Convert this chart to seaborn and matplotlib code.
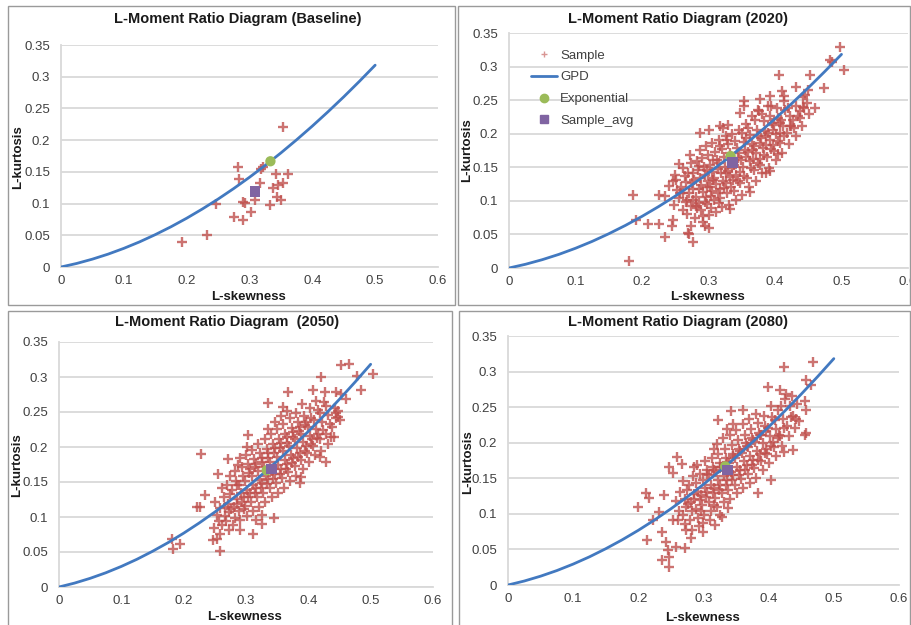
import matplotlib
matplotlib.use("Agg")
import matplotlib.pyplot as plt
from matplotlib.lines import Line2D
from matplotlib.patches import Rectangle
import pandas as pd
import seaborn as sns

# GPD theoretical L-skewness / L-kurtosis relation
gpd_skew = [0.0, 0.025, 0.05, 0.075, 0.1, 0.125, 0.15, 0.175, 0.2, 0.225, 0.25,
            0.275, 0.3, 0.325, 0.35, 0.375, 0.4, 0.425, 0.45, 0.475, 0.5]
gpd_kurt = [0.0, 0.0056, 0.0124, 0.0203, 0.0294, 0.0396, 0.0510, 0.0634, 0.0769,
            0.0915, 0.1071, 0.1238, 0.1415, 0.1602, 0.1799, 0.2006, 0.2222,
            0.2448, 0.2683, 0.2928, 0.3182]

# Exponential distribution point
exp_skew = 0.3333
exp_kurt = 0.1667

# Sample averages
avg_baseline = (0.309, 0.119)
avg_2020 = (0.336, 0.157)
avg_2050 = (0.341, 0.169)
avg_2080 = (0.337, 0.162)

# Sample L-moment ratios (L-skewness, L-kurtosis)
sample_baseline = [
    (0.354, 0.221), (0.281, 0.158), (0.284, 0.138), (0.321, 0.158), (0.318, 0.154),
    (0.342, 0.147), (0.362, 0.147), (0.317, 0.133), (0.337, 0.125), (0.346, 0.129),
    (0.354, 0.132), (0.247, 0.099), (0.290, 0.103), (0.293, 0.101), (0.309, 0.106),
    (0.333, 0.098), (0.344, 0.111), (0.350, 0.105), (0.302, 0.087), (0.276, 0.079),
    (0.289, 0.074), (0.233, 0.050), (0.192, 0.039),
]

sample_2020 = [
    (0.497, 0.329), (0.482, 0.310), (0.486, 0.307), (0.504, 0.295), (0.406, 0.287),
    (0.452, 0.288), (0.431, 0.270), (0.474, 0.268), (0.449, 0.265), (0.445, 0.258),
    (0.410, 0.263), (0.414, 0.256), (0.392, 0.256), (0.378, 0.251), (0.353, 0.248),
    (0.353, 0.241), (0.460, 0.238), (0.442, 0.240), (0.437, 0.234), (0.374, 0.236),
    (0.394, 0.241), (0.329, 0.213), (0.322, 0.209), (0.301, 0.206), (0.287, 0.201),
    (0.407, 0.201), (0.422, 0.211), (0.427, 0.221), (0.404, 0.170), (0.392, 0.144),
    (0.387, 0.141), (0.363, 0.113), (0.332, 0.088), (0.255, 0.155), (0.249, 0.139),
    (0.186, 0.108), (0.191, 0.072), (0.209, 0.066), (0.226, 0.066), (0.245, 0.062),
    (0.246, 0.072), (0.234, 0.046), (0.269, 0.052), (0.271, 0.050), (0.277, 0.038),
    (0.301, 0.060), (0.294, 0.062), (0.181, 0.011), (0.273, 0.063), (0.226, 0.109),
    (0.234, 0.107), (0.241, 0.122), (0.246, 0.129), (0.261, 0.112), (0.267, 0.102),
    (0.281, 0.092), (0.291, 0.077), (0.304, 0.089), (0.316, 0.097),
    (0.248, 0.094), (0.253, 0.116), (0.251, 0.131), (0.256, 0.104),
    (0.262, 0.086), (0.258, 0.121), (0.264, 0.137), (0.261, 0.149), (0.266, 0.099),
    (0.268, 0.081), (0.273, 0.093), (0.271, 0.112), (0.275, 0.126), (0.269, 0.141),
    (0.274, 0.156), (0.272, 0.168),
    (0.279, 0.074), (0.283, 0.089), (0.281, 0.106), (0.285, 0.117), (0.278, 0.131),
    (0.284, 0.146), (0.282, 0.159), (0.287, 0.176),
    (0.291, 0.069), (0.288, 0.087), (0.294, 0.099), (0.292, 0.113), (0.289, 0.124),
    (0.295, 0.138), (0.293, 0.151), (0.290, 0.164), (0.296, 0.181),
    (0.301, 0.079), (0.298, 0.096), (0.304, 0.107), (0.302, 0.121), (0.299, 0.129),
    (0.305, 0.143), (0.303, 0.154), (0.300, 0.169), (0.306, 0.186),
    (0.311, 0.084), (0.308, 0.101), (0.314, 0.111), (0.312, 0.125), (0.309, 0.134),
    (0.315, 0.148), (0.313, 0.161), (0.310, 0.173), (0.316, 0.191),
    (0.321, 0.091), (0.318, 0.104), (0.324, 0.119), (0.322, 0.129), (0.319, 0.141),
    (0.325, 0.151), (0.323, 0.166), (0.320, 0.177), (0.326, 0.196), (0.317, 0.211),
    (0.331, 0.094), (0.328, 0.111), (0.334, 0.121), (0.332, 0.136), (0.329, 0.145),
    (0.335, 0.159), (0.333, 0.171), (0.330, 0.184), (0.336, 0.199),
    (0.341, 0.101), (0.338, 0.114), (0.344, 0.129), (0.342, 0.139), (0.339, 0.153),
    (0.345, 0.164), (0.343, 0.179), (0.340, 0.189), (0.346, 0.206),
    (0.351, 0.109), (0.348, 0.126), (0.354, 0.137), (0.352, 0.151), (0.349, 0.161),
    (0.355, 0.176), (0.353, 0.187), (0.350, 0.201), (0.356, 0.214), (0.347, 0.231),
    (0.361, 0.121), (0.358, 0.134), (0.364, 0.149), (0.362, 0.159), (0.359, 0.173),
    (0.365, 0.184), (0.363, 0.198), (0.360, 0.209), (0.366, 0.226),
    (0.371, 0.129), (0.368, 0.146), (0.374, 0.157), (0.372, 0.171), (0.369, 0.181),
    (0.375, 0.196), (0.373, 0.206), (0.370, 0.221), (0.376, 0.234),
    (0.381, 0.141), (0.378, 0.154), (0.384, 0.169), (0.382, 0.179), (0.379, 0.193),
    (0.385, 0.204), (0.383, 0.219), (0.380, 0.229),
    (0.391, 0.149), (0.388, 0.166), (0.394, 0.177), (0.392, 0.191), (0.389, 0.201),
    (0.395, 0.216), (0.393, 0.227), (0.390, 0.241),
    (0.401, 0.161), (0.398, 0.174), (0.404, 0.189), (0.402, 0.199), (0.399, 0.213),
    (0.405, 0.224), (0.403, 0.239),
    (0.411, 0.171), (0.408, 0.186), (0.414, 0.197), (0.412, 0.211), (0.409, 0.221),
    (0.415, 0.236), (0.413, 0.249),
    (0.421, 0.184), (0.418, 0.201), (0.424, 0.212), (0.422, 0.226), (0.419, 0.239),
    (0.431, 0.196), (0.428, 0.209), (0.434, 0.226), (0.432, 0.241),
    (0.441, 0.211), (0.438, 0.224), (0.444, 0.239), (0.442, 0.254),
    (0.451, 0.229), (0.448, 0.246),
    (0.276, 0.101), (0.286, 0.097), (0.296, 0.106), (0.306, 0.114), (0.307, 0.131),
    (0.317, 0.118), (0.297, 0.121), (0.287, 0.134), (0.277, 0.118), (0.266, 0.128),
    (0.257, 0.112), (0.316, 0.156), (0.326, 0.141), (0.336, 0.149), (0.327, 0.127),
    (0.337, 0.131), (0.347, 0.143), (0.346, 0.171), (0.357, 0.166), (0.367, 0.176),
    (0.377, 0.186), (0.387, 0.196), (0.397, 0.206), (0.407, 0.216), (0.357, 0.193),
    (0.367, 0.163), (0.377, 0.163), (0.387, 0.183), (0.397, 0.183), (0.307, 0.161),
    (0.297, 0.146), (0.286, 0.152), (0.276, 0.142), (0.318, 0.181), (0.328, 0.191),
]

sample_2050 = [
    (0.453, 0.317), (0.466, 0.319), (0.504, 0.305), (0.485, 0.282), (0.478, 0.302),
    (0.421, 0.300), (0.461, 0.269), (0.368, 0.279), (0.336, 0.263), (0.360, 0.257),
    (0.408, 0.281), (0.426, 0.279), (0.445, 0.279), (0.448, 0.243), (0.445, 0.248),
    (0.437, 0.214), (0.429, 0.179), (0.418, 0.186), (0.303, 0.217), (0.301, 0.200),
    (0.228, 0.190), (0.271, 0.183), (0.255, 0.162), (0.234, 0.131), (0.221, 0.115),
    (0.226, 0.114), (0.181, 0.069), (0.183, 0.055), (0.194, 0.062), (0.258, 0.052),
    (0.247, 0.067), (0.253, 0.069), (0.311, 0.076), (0.290, 0.081), (0.345, 0.098),
    (0.325, 0.090), (0.386, 0.148), (0.389, 0.157),
    (0.249, 0.085), (0.254, 0.103), (0.251, 0.121), (0.256, 0.094),
    (0.262, 0.089), (0.258, 0.113), (0.264, 0.128), (0.261, 0.141), (0.266, 0.101),
    (0.259, 0.076),
    (0.268, 0.094), (0.273, 0.107), (0.271, 0.119), (0.275, 0.133), (0.269, 0.146),
    (0.274, 0.159), (0.272, 0.081),
    (0.279, 0.088), (0.283, 0.099), (0.281, 0.114), (0.285, 0.126), (0.278, 0.139),
    (0.284, 0.151), (0.282, 0.166), (0.287, 0.174),
    (0.291, 0.096), (0.288, 0.109), (0.294, 0.121), (0.292, 0.134), (0.289, 0.146),
    (0.295, 0.158), (0.293, 0.171), (0.290, 0.184),
    (0.301, 0.101), (0.298, 0.116), (0.304, 0.128), (0.302, 0.139), (0.299, 0.151),
    (0.305, 0.163), (0.303, 0.176), (0.300, 0.189),
    (0.311, 0.108), (0.308, 0.121), (0.314, 0.134), (0.312, 0.146), (0.309, 0.158),
    (0.315, 0.171), (0.313, 0.183), (0.310, 0.196), (0.316, 0.096),
    (0.321, 0.114), (0.318, 0.128), (0.324, 0.141), (0.322, 0.153), (0.319, 0.166),
    (0.325, 0.178), (0.323, 0.191), (0.320, 0.204), (0.326, 0.103),
    (0.331, 0.121), (0.328, 0.134), (0.334, 0.147), (0.332, 0.159), (0.329, 0.172),
    (0.335, 0.184), (0.333, 0.197), (0.330, 0.211), (0.336, 0.226),
    (0.341, 0.128), (0.338, 0.141), (0.344, 0.154), (0.342, 0.166), (0.339, 0.179),
    (0.345, 0.191), (0.343, 0.204), (0.340, 0.218), (0.346, 0.236),
    (0.351, 0.134), (0.348, 0.149), (0.354, 0.161), (0.352, 0.174), (0.349, 0.186),
    (0.355, 0.199), (0.353, 0.211), (0.350, 0.226), (0.356, 0.244),
    (0.361, 0.141), (0.358, 0.156), (0.364, 0.169), (0.362, 0.181), (0.359, 0.194),
    (0.365, 0.206), (0.363, 0.219), (0.360, 0.233), (0.366, 0.251),
    (0.371, 0.151), (0.368, 0.164), (0.374, 0.177), (0.372, 0.189), (0.369, 0.202),
    (0.375, 0.214), (0.373, 0.227), (0.370, 0.241),
    (0.381, 0.159), (0.378, 0.173), (0.384, 0.186), (0.382, 0.198), (0.379, 0.211),
    (0.385, 0.223), (0.383, 0.236), (0.380, 0.249),
    (0.391, 0.169), (0.388, 0.182), (0.394, 0.195), (0.392, 0.207), (0.389, 0.219),
    (0.395, 0.231), (0.393, 0.244), (0.390, 0.262),
    (0.401, 0.179), (0.398, 0.191), (0.404, 0.204), (0.402, 0.216), (0.399, 0.228),
    (0.405, 0.241), (0.403, 0.256),
    (0.411, 0.189), (0.408, 0.201), (0.414, 0.213), (0.412, 0.226), (0.409, 0.239),
    (0.415, 0.253), (0.413, 0.266),
    (0.421, 0.194), (0.418, 0.211), (0.424, 0.224), (0.422, 0.236), (0.419, 0.249),
    (0.425, 0.264),
    (0.431, 0.204), (0.428, 0.219), (0.434, 0.233), (0.432, 0.246), (0.429, 0.259),
    (0.441, 0.214), (0.438, 0.229), (0.444, 0.241), (0.442, 0.256),
    (0.451, 0.239), (0.448, 0.251), (0.453, 0.276),
    (0.276, 0.112), (0.286, 0.118), (0.296, 0.128), (0.306, 0.134), (0.316, 0.141),
    (0.326, 0.148), (0.336, 0.154), (0.346, 0.161), (0.356, 0.168), (0.366, 0.176),
    (0.376, 0.184), (0.386, 0.192), (0.396, 0.201), (0.406, 0.211), (0.416, 0.219),
    (0.306, 0.168), (0.316, 0.176), (0.326, 0.184), (0.336, 0.191), (0.346, 0.198),
    (0.356, 0.206), (0.366, 0.214), (0.376, 0.221), (0.386, 0.229), (0.396, 0.236),
    (0.286, 0.146), (0.296, 0.111), (0.266, 0.114),
]

sample_2080 = [
    (0.468, 0.313), (0.423, 0.307), (0.457, 0.288), (0.465, 0.281), (0.399, 0.279),
    (0.417, 0.274), (0.427, 0.269), (0.455, 0.258), (0.458, 0.246), (0.442, 0.234),
    (0.458, 0.213), (0.455, 0.211), (0.437, 0.190), (0.424, 0.187), (0.404, 0.148),
    (0.383, 0.129), (0.322, 0.232), (0.342, 0.244), (0.360, 0.246), (0.259, 0.180),
    (0.247, 0.166), (0.267, 0.170), (0.253, 0.157), (0.286, 0.166), (0.199, 0.110),
    (0.212, 0.129), (0.217, 0.122), (0.240, 0.127), (0.222, 0.091), (0.232, 0.103),
    (0.214, 0.063), (0.237, 0.075), (0.242, 0.061), (0.245, 0.049), (0.247, 0.040),
    (0.237, 0.035), (0.247, 0.026), (0.253, 0.091), (0.258, 0.054), (0.271, 0.052),
    (0.273, 0.077), (0.281, 0.066), (0.299, 0.075), (0.317, 0.084), (0.329, 0.096),
    (0.337, 0.108),
    (0.262, 0.104), (0.258, 0.118), (0.264, 0.131), (0.261, 0.091),
    (0.268, 0.098), (0.273, 0.109), (0.271, 0.121), (0.275, 0.134), (0.269, 0.146),
    (0.272, 0.086),
    (0.279, 0.091), (0.283, 0.104), (0.281, 0.116), (0.285, 0.128), (0.278, 0.141),
    (0.284, 0.153), (0.282, 0.078),
    (0.291, 0.094), (0.288, 0.107), (0.294, 0.119), (0.292, 0.131), (0.289, 0.143),
    (0.295, 0.156), (0.293, 0.083), (0.290, 0.169),
    (0.301, 0.099), (0.298, 0.112), (0.304, 0.124), (0.302, 0.136), (0.299, 0.148),
    (0.305, 0.161), (0.303, 0.174), (0.300, 0.087),
    (0.311, 0.104), (0.308, 0.117), (0.314, 0.129), (0.312, 0.141), (0.309, 0.154),
    (0.315, 0.166), (0.313, 0.179), (0.310, 0.092), (0.316, 0.191),
    (0.321, 0.109), (0.318, 0.122), (0.324, 0.134), (0.322, 0.147), (0.319, 0.159),
    (0.325, 0.171), (0.323, 0.184), (0.320, 0.198), (0.326, 0.099),
    (0.331, 0.116), (0.328, 0.129), (0.334, 0.141), (0.332, 0.153), (0.329, 0.166),
    (0.335, 0.178), (0.333, 0.191), (0.330, 0.206), (0.336, 0.219),
    (0.341, 0.121), (0.338, 0.134), (0.344, 0.147), (0.342, 0.159), (0.339, 0.172),
    (0.345, 0.184), (0.343, 0.197), (0.340, 0.211), (0.346, 0.226),
    (0.351, 0.129), (0.348, 0.141), (0.354, 0.154), (0.352, 0.166), (0.349, 0.179),
    (0.355, 0.191), (0.353, 0.204), (0.350, 0.218),
    (0.361, 0.136), (0.358, 0.149), (0.364, 0.161), (0.362, 0.174), (0.359, 0.186),
    (0.365, 0.199), (0.363, 0.211), (0.360, 0.226),
    (0.371, 0.144), (0.368, 0.156), (0.374, 0.169), (0.372, 0.181), (0.369, 0.194),
    (0.375, 0.206), (0.373, 0.219), (0.370, 0.233),
    (0.381, 0.151), (0.378, 0.164), (0.384, 0.176), (0.382, 0.189), (0.379, 0.201),
    (0.385, 0.214), (0.383, 0.228), (0.380, 0.241),
    (0.391, 0.161), (0.388, 0.174), (0.394, 0.186), (0.392, 0.199), (0.389, 0.211),
    (0.395, 0.224), (0.393, 0.238),
    (0.401, 0.171), (0.398, 0.184), (0.404, 0.196), (0.402, 0.209), (0.399, 0.221),
    (0.405, 0.236), (0.403, 0.251),
    (0.411, 0.181), (0.408, 0.194), (0.414, 0.206), (0.412, 0.219), (0.409, 0.232),
    (0.415, 0.246),
    (0.421, 0.196), (0.418, 0.209), (0.424, 0.221), (0.422, 0.234), (0.419, 0.251),
    (0.425, 0.262),
    (0.431, 0.209), (0.428, 0.223), (0.434, 0.236), (0.432, 0.251), (0.436, 0.266),
    (0.441, 0.221), (0.438, 0.238), (0.444, 0.254), (0.446, 0.231),
    (0.276, 0.114), (0.286, 0.121), (0.296, 0.126), (0.306, 0.131), (0.316, 0.136),
    (0.326, 0.141), (0.336, 0.148), (0.346, 0.154), (0.356, 0.161), (0.366, 0.168),
    (0.376, 0.176), (0.386, 0.184), (0.396, 0.191), (0.406, 0.201), (0.416, 0.211),
    (0.306, 0.156), (0.316, 0.161), (0.326, 0.166), (0.336, 0.173), (0.346, 0.181),
    (0.356, 0.188), (0.366, 0.196), (0.376, 0.204), (0.386, 0.211), (0.396, 0.216),
    (0.296, 0.104), (0.316, 0.112),
]

titles = ["L-Moment Ratio Diagram (Baseline)", "L-Moment Ratio Diagram (2020)",
          "L-Moment Ratio Diagram  (2050)", "L-Moment Ratio Diagram (2080)"]
x_ticks = [0, 0.1, 0.2, 0.3, 0.4, 0.5, 0.6]
x_tick_labels = ["0", "0.1", "0.2", "0.3", "0.4", "0.5", "0.6"]
y_ticks = [0, 0.05, 0.1, 0.15, 0.2, 0.25, 0.3, 0.35]
y_tick_labels = ["0", "0.05", "0.1", "0.15", "0.2", "0.25", "0.3", "0.35"]
legend_labels = ["Sample", "GPD", "Exponential", "Sample_avg"]

RED = "#C0504D"
BLUE = "#4279C0"
GREEN = "#9BBB59"
PURPLE = "#8064A2"
GRID = "#D9D9D9"
TXT = "#404040"

sns.set_theme(style="white")
plt.rcParams["font.family"] = ["Liberation Sans", "DejaVu Sans"]

W, H = 912, 625
fig = plt.figure(figsize=(W / 100, H / 100), dpi=100)
fig.patch.set_facecolor("white")


def frac_rect(l, t, r, b):
    return [l / W, 1 - b / H, (r - l) / W, (b - t) / H]


def fx(x):
    return x / W


def fy(y):
    return 1 - y / H


panels = [
    dict(samples=sample_baseline, avg=avg_baseline, axes=(61, 45, 438, 267),
         frame=(8, 6, 455, 305), title=(238, 19), xl=(249, 297), yl=(18, 157)),
    dict(samples=sample_2020, avg=avg_2020, axes=(509, 33, 908, 268),
         frame=(458, 6, 910, 305), title=(678, 19), xl=(708, 297), yl=(467, 150)),
    dict(samples=sample_2050, avg=avg_2050, axes=(59, 342, 433, 587),
         frame=(8, 311, 452, 640), title=(227, 322), xl=(245, 617), yl=(17, 465)),
    dict(samples=sample_2080, avg=avg_2080, axes=(508, 336, 899, 585),
         frame=(459, 311, 910, 640), title=(678, 322), xl=(703, 618), yl=(468, 462)),
]

for i, p in enumerate(panels):
    l, t, r, b = p["frame"]
    fig.patches.append(Rectangle((fx(l), fy(b)), (r - l) / W, (b - t) / H,
                                 transform=fig.transFigure, fill=False,
                                 edgecolor="#9A9A9A", linewidth=1.0))

    ax = fig.add_axes(frac_rect(*p["axes"]))
    ax.set_facecolor("none")
    ax.set_xlim(0, 0.6)
    ax.set_ylim(0, 0.35)
    ax.set_xticks(x_ticks, x_tick_labels)
    ax.set_yticks(y_ticks, y_tick_labels)
    ax.yaxis.grid(True, color=GRID, linewidth=1.3)
    ax.xaxis.grid(False)
    ax.set_axisbelow(True)
    ax.tick_params(axis="both", length=0, labelsize=9.5, colors=TXT)
    ax.tick_params(axis="x", pad=6)
    ax.tick_params(axis="y", pad=8)
    for s in ("top", "right"):
        ax.spines[s].set_visible(False)
    for s in ("left", "bottom"):
        ax.spines[s].set_color(GRID)
        ax.spines[s].set_linewidth(1.3)

    df = pd.DataFrame(p["samples"], columns=["skew", "kurt"])
    sns.scatterplot(data=df, x="skew", y="kurt", marker="+", s=52, color=RED,
                    linewidth=1.7, alpha=0.8, ax=ax, legend=False, zorder=2)
    gpd = pd.DataFrame({"skew": gpd_skew, "kurt": gpd_kurt})
    sns.lineplot(data=gpd, x="skew", y="kurt", color=BLUE, linewidth=2.0,
                 sort=False, ax=ax, zorder=3)
    ax.scatter([exp_skew], [exp_kurt], marker="o", s=55, color=GREEN,
               edgecolors="none", zorder=4)
    ax.scatter([p["avg"][0]], [p["avg"][1]], marker="s", s=55, color=PURPLE,
               edgecolors="none", zorder=5)
    ax.set_xlabel("")
    ax.set_ylabel("")

    fig.text(fx(p["title"][0]), fy(p["title"][1]), titles[i], ha="center",
             va="center", fontsize=10.5, fontweight="bold", color="#1A1A1A")
    fig.text(fx(p["xl"][0]), fy(p["xl"][1]), "L-skewness", ha="center",
             va="center", fontsize=9.5, fontweight="bold", color="#1A1A1A")
    fig.text(fx(p["yl"][0]), fy(p["yl"][1]), "L-kurtosis", ha="center",
             va="center", rotation=90, fontsize=9.5, fontweight="bold",
             color="#1A1A1A")

    if i == 1:
        handles = [
            Line2D([], [], linestyle="none", marker="+", markersize=5,
                   markeredgewidth=1.0, color=RED, alpha=0.6),
            Line2D([], [], color=BLUE, linewidth=2.0),
            Line2D([], [], linestyle="none", marker="o", markersize=6,
                   color=GREEN),
            Line2D([], [], linestyle="none", marker="s", markersize=6,
                   color=PURPLE),
        ]
        ax.legend(handles, legend_labels, loc="upper left",
                  bbox_to_anchor=(0.055, 0.93), frameon=False, fontsize=9.5,
                  handlelength=2.0, handletextpad=0.2, labelspacing=0.72,
                  borderpad=0, borderaxespad=0, labelcolor=TXT)

fig.savefig("out.png", dpi=100, facecolor="white")
